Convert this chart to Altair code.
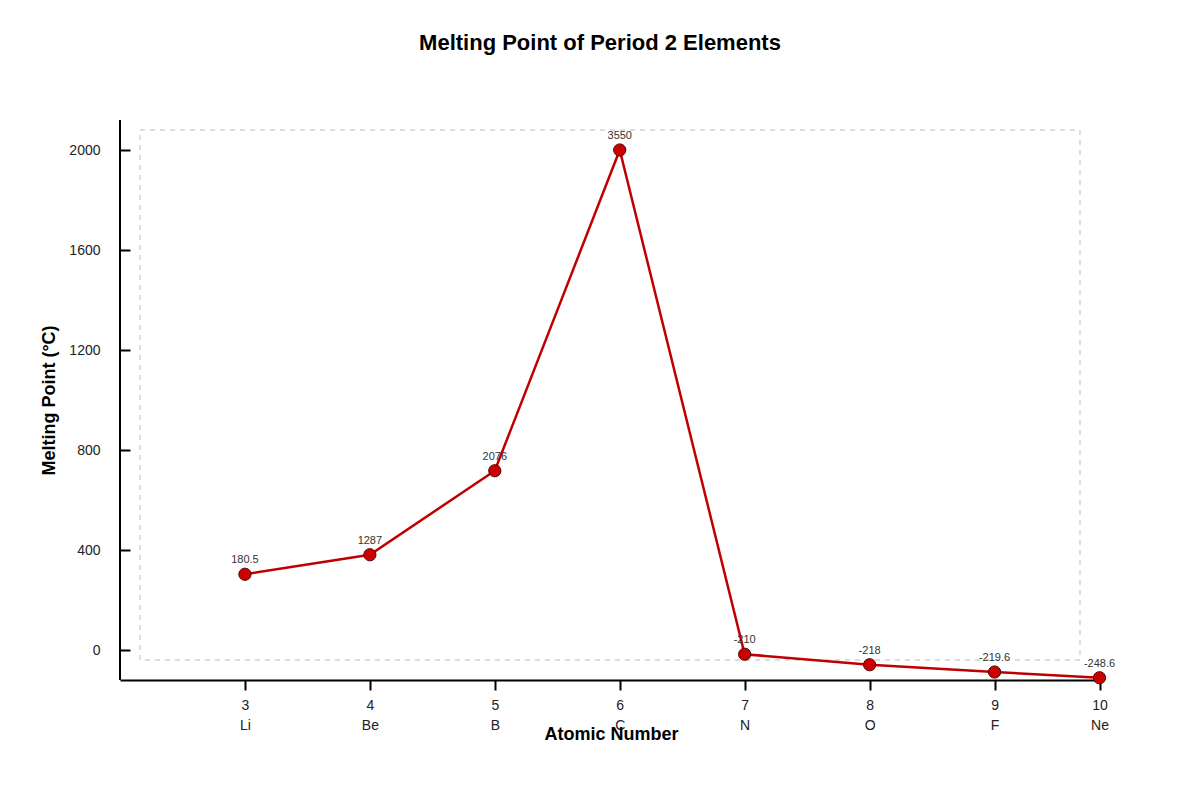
import altair as alt
import pandas as pd

elements = ["Li", "Be", "B", "C", "N", "O", "F", "Ne"]
atomic_numbers = [3, 4, 5, 6, 7, 8, 9, 10]
x_positions = [3, 4, 5, 6, 7, 8, 9, 9.84]
plotted_values = [303, 381, 717, 2000, -17, -59, -88, -111]
value_labels = ["180.5", "1287", "2076", "3550", "-210", "-218", "-219.6", "-248.6"]
y_ticks = [0, 400, 800, 1200, 1600, 2000]

df = pd.DataFrame({
    "element": elements,
    "z": atomic_numbers,
    "pos": x_positions,
    "plotted": plotted_values,
    "label": value_labels,
})

FONT = "Liberation Sans"

# label expression: number on first line, element symbol on second
expr = "''"
for p, z, e in reversed(list(zip(x_positions, atomic_numbers, elements))):
    expr = f"datum.value == {p} ? ['{z}', '{e}'] : ({expr})"

x_enc = alt.X(
    "pos:Q",
    scale=alt.Scale(domain=[2, 9.86], nice=False, zero=False),
    axis=alt.Axis(
        title="Atomic Number",
        values=x_positions,
        labelExpr=expr,
        grid=False,
        domainColor="black",
        domainWidth=2,
        tickColor="black",
        tickWidth=2,
        tickSize=10,
        labelFontSize=14,
        labelColor="#222",
        labelPadding=8,
        labelLineHeight=20,
        labelFont=FONT,
        titleFont=FONT,
        titleFontSize=18,
        titleFontWeight="bold",
        titleColor="black",
        titlePadding=-7,
    ),
)
y_enc = alt.Y(
    "plotted:Q",
    scale=alt.Scale(domain=[-120, 2120], nice=False, zero=False),
    axis=alt.Axis(
        title="Melting Point (°C)",
        values=y_ticks,
        format="d",
        grid=False,
        domain=False,
        offset=-10,
        tickColor="black",
        tickWidth=2,
        tickSize=10,
        labelFontSize=14,
        labelColor="#222",
        labelPadding=20,
        labelFont=FONT,
        titleFont=FONT,
        titleFontSize=18,
        titleFontWeight="bold",
        titleColor="black",
        titlePadding=10,
    ),
)

base = alt.Chart(df)

frame = base.mark_rect(
    fill=None, stroke="#dddddd", strokeDash=[5, 5], strokeWidth=1
).encode(
    x=alt.value(20), x2=alt.value(960), y=alt.value(10), y2=alt.value(540)
)

left_axis = base.mark_rule(color="black", strokeWidth=2).encode(
    x=alt.value(0), y=alt.value(0), y2=alt.value(560)
)

line = base.mark_line(color="#c00000", strokeWidth=2.5).encode(x=x_enc, y=y_enc)

points = base.mark_point(
    filled=True, fill="#cc0000", stroke="#550000", strokeWidth=1, size=150, opacity=1
).encode(x="pos:Q", y="plotted:Q")

texts = base.mark_text(
    dy=-14, fontSize=11, color="#333333", font=FONT
).encode(x="pos:Q", y="plotted:Q", text="label:N")

chart = alt.layer(frame, line, points, texts, left_axis).properties(
    width=982,
    height=560,
    background="white",
    title=alt.TitleParams(
        "Melting Point of Period 2 Elements",
        fontSize=22,
        fontWeight="bold",
        font=FONT,
        color="black",
        anchor="middle",
        offset=64,
        dx=-11,
    ),
    autosize=alt.AutoSizeParams(type="none"),
    padding={"left": 120, "top": 120, "right": 98, "bottom": 120},
).configure_view(stroke="transparent", strokeWidth=0)

chart.save("out.html", embed_options={"renderer": "svg", "actions": False})
